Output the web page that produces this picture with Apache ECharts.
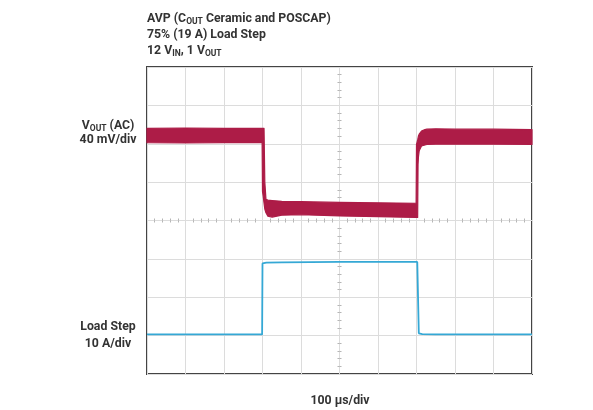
<!DOCTYPE html>
<html>
<head>
<meta charset="utf-8">
<script src="https://cdn.jsdelivr.net/npm/echarts@6/dist/echarts.min.js"></script>
<style>
  html, body { margin: 0; padding: 0; background: #ffffff; }
  #chart { width: 593px; height: 410px; }
</style>
</head>
<body>
<div id="chart"></div>
<script>
// ---- data (time in µs relative to screen centre, values in divisions) ----
const timeUs = [-500, -400, -300, -202, -201, -200, -198, -196, -194, -191, -186, -175, -150, -100, 0, 100, 198, 199, 200, 203, 204, 205, 207, 213, 222, 227, 250, 300, 400, 500];
const voutUpperDiv = [2.40, 2.41, 2.40, 2.40, 2.40, 2.40, 2.40, 2.40, 1.00, 0.55, 0.53, 0.52, 0.50, 0.49, 0.47, 0.46, 0.45, 0.45, 1.98, 2.10, 2.15, 2.20, 2.25, 2.33, 2.37, 2.38, 2.39, 2.38, 2.38, 2.37];
const voutLowerDiv = [2.03, 2.02, 2.03, 2.03, 2.03, 0.76, 0.62, 0.45, 0.30, 0.20, 0.11, 0.09, 0.14, 0.15, 0.12, 0.10, 0.08, 0.08, 0.08, 0.08, 1.46, 1.65, 1.82, 1.94, 1.97, 1.98, 1.99, 1.99, 1.99, 1.98];

const loadTimeUs = [-500, -201, -200, -190, -150, 0, 150, 202, 206, 215, 250, 500];
const loadStepDiv = [-2.97, -2.97, -1.12, -1.10, -1.09, -1.08, -1.08, -1.08, -2.94, -2.96, -2.97, -2.97];

const xMinUs = -500, xMaxUs = 500, xDivUs = 100;
const yMinDiv = -4, yMaxDiv = 4, yDiv = 1;

// ---- build ----
const load = loadTimeUs.map((t, i) => [t, loadStepDiv[i]]);
const bandData = timeUs.map((t, i) => [t, voutUpperDiv[i], voutLowerDiv[i]]);

const RED = '#ad1c47';
const CYAN = '#35a8d5';
const TXT = '#333333';
const FONT = 'Roboto, "Liberation Sans", sans-serif';

const rich = {
  b: { fontSize: 12.3, fontWeight: 'bold', fontFamily: FONT, lineHeight: 15, fill: TXT },
  s: { fontSize: 8.5, fontWeight: 'bold', fontFamily: FONT, lineHeight: 9, verticalAlign: 'bottom', fill: TXT }
};

function label(x, y, text, align) {
  return { type: 'text', x: x, y: y, z: 10,
    style: { text: text, rich: rich, fill: TXT, align: align, verticalAlign: 'middle',
             font: 'bold 12.3px ' + FONT } };
}

const gridPos = { left: 147, right: 61, top: 67, bottom: 36 };

const tickAxisX = (gridIndex, inside) => ({
  type: 'value', gridIndex: gridIndex, min: xMinUs, max: xMaxUs, interval: xDivUs,
  axisLine: { show: false, onZero: true },
  axisTick: { show: false, inside: inside },
  minorTick: { show: true, splitNumber: 5, length: 2, lineStyle: { color: '#b5b5b5', width: 1 } },
  axisLabel: { show: false },
  splitLine: { show: gridIndex === 0, lineStyle: { color: '#dcdcdc', width: 1 } },
  minorSplitLine: { show: false }
});
const tickAxisY = (gridIndex, inside) => ({
  type: 'value', gridIndex: gridIndex, min: yMinDiv, max: yMaxDiv, interval: yDiv,
  axisLine: { show: false, onZero: true },
  axisTick: { show: false, inside: inside },
  minorTick: { show: true, splitNumber: 5, length: 2, lineStyle: { color: '#b5b5b5', width: 1 } },
  axisLabel: { show: false },
  splitLine: { show: gridIndex === 0, lineStyle: { color: '#dcdcdc', width: 1 } },
  minorSplitLine: { show: false }
});

const chart = echarts.init(document.getElementById('chart'), null, { renderer: 'canvas' });
chart.setOption({
  animation: false,
  backgroundColor: '#ffffff',
  grid: [
    Object.assign({ show: true, borderColor: '#444444', borderWidth: 2, backgroundColor: 'transparent', z: 0 }, gridPos),
    Object.assign({ show: false }, gridPos)
  ],
  xAxis: [tickAxisX(0, false), tickAxisX(1, true)],
  yAxis: [tickAxisY(0, false), tickAxisY(1, true)],
  series: [
    { name: 'VOUT (AC)', type: 'custom', coordinateSystem: 'cartesian2d', xAxisIndex: 0, yAxisIndex: 0,
      data: [bandData[0]], z: 3, silent: true,
      renderItem: function (params, api) {
        const pts = [];
        for (let i = 0; i < bandData.length; i++) pts.push(api.coord([bandData[i][0], bandData[i][1]]));
        for (let i = bandData.length - 1; i >= 0; i--) pts.push(api.coord([bandData[i][0], bandData[i][2]]));
        return { type: 'polygon', shape: { points: pts },
                 style: { fill: RED, stroke: RED, lineWidth: 1.2, lineJoin: 'round' } };
      }
    },
    { name: 'Load Step', type: 'line', xAxisIndex: 0, yAxisIndex: 0, data: load,
      showSymbol: false, symbol: 'none',
      lineStyle: { color: CYAN, width: 1.8 }, z: 3 }
  ],
  graphic: [
    label(147, 19, '{b|AVP (C}{s|OUT}{b| Ceramic and POSCAP)}', 'left'),
    label(147, 35, '{b|75% (19 A) Load Step}', 'left'),
    label(147, 51, '{b|12 V}{s|IN}{b|, 1 V}{s|OUT}', 'left'),
    label(108, 126, '{b|V}{s|OUT}{b| (AC)}', 'center'),
    label(108, 139.5, '{b|40 mV/div}', 'center'),
    label(108, 327, '{b|Load Step}', 'center'),
    label(108, 343.5, '{b|10 A/div}', 'center'),
    label(340, 401, '{b|100 µs/div}', 'center')
  ]
});
</script>
</body>
</html>
